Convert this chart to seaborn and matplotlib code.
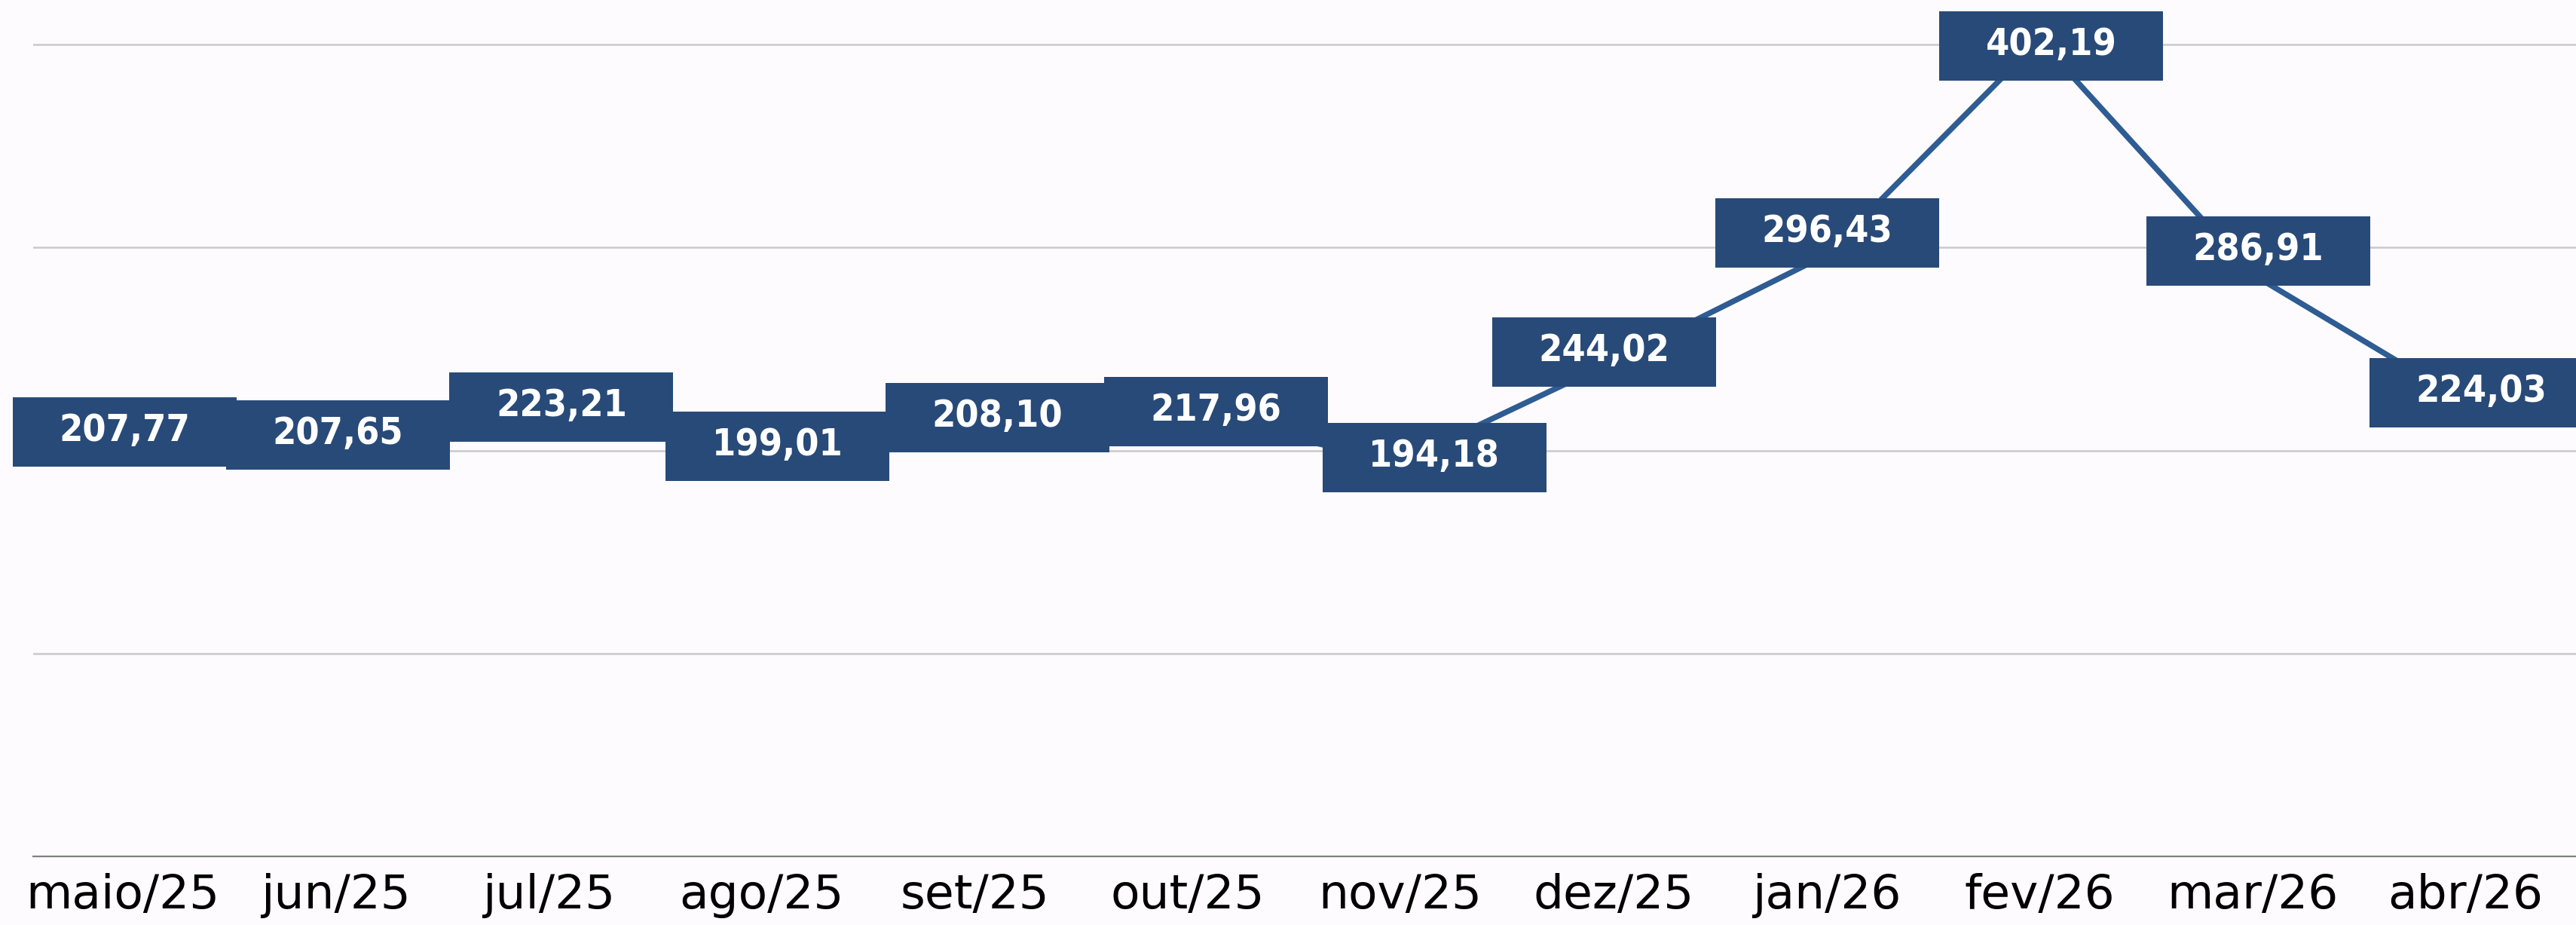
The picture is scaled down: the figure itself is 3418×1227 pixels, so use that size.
import numpy as np
import pandas as pd
import matplotlib
matplotlib.use("Agg")
import matplotlib.pyplot as plt
import matplotlib.transforms as mtransforms
from matplotlib.patches import Rectangle
import seaborn as sns

# dados do grafico
meses = ['maio/25', 'jun/25', 'jul/25', 'ago/25', 'set/25', 'out/25',
         'nov/25', 'dez/25', 'jan/26', 'fev/26', 'mar/26', 'abr/26']
valores = [207.77, 207.65, 223.21, 199.01, 208.10, 217.96,
           194.18, 244.02, 296.43, 402.19, 286.91, 224.03]
rotulos = [f"{v:.2f}".replace('.', ',') for v in valores]

# pequeno ajuste de posicao dos rotulos (em px, como no Excel)
ajuste_x = [3, 3, 17, 21, 30, 38, 45, -12, 1, 16, 8, 21]
ajuste_y = [4, 0, -5, 8, 22, 3, 6, 12, 29, -8, 31, 12]

df = pd.DataFrame({'mes': meses, 'valor': valores})

sns.set_theme(style='white')
plt.rcParams['font.family'] = ['DejaVu Sans']

fundo = '#fdfbfd'
azul_caixa = '#284a78'
azul_linha = '#2e5c93'
dpi = 200

fig = plt.figure(figsize=(17.09, 6.135), dpi=dpi, facecolor=fundo)
ax = fig.add_axes([0.0129, 0.0742, 0.9871, 0.9258])
ax.set_facecolor(fundo)

sns.lineplot(data=df, x='mes', y='valor', sort=False, color=azul_linha,
             linewidth=2.7, ax=ax, zorder=2)

ax.set_ylim(0, 422)
ax.set_xlim(-0.42, 11.52)
ax.set_yticks([100, 200, 300, 400])
ax.yaxis.grid(True, color='#c9c9ce', linewidth=0.9, zorder=0)
ax.set_axisbelow(True)
ax.tick_params(axis='y', left=False, labelleft=False)
ax.tick_params(axis='x', length=0, pad=8, labelsize=22.7, labelcolor='black')
ax.set_xlabel('')
ax.set_ylabel('')
for s in ['top', 'left', 'right']:
    ax.spines[s].set_visible(False)
ax.spines['bottom'].set_color('#808080')
ax.spines['bottom'].set_linewidth(0.8)

# caixas dos rotulos (tamanho fixo em polegadas)
w, h = 297 / dpi, 92 / dpi
for i, (v, txt) in enumerate(zip(valores, rotulos)):
    tr = (fig.dpi_scale_trans
          + mtransforms.ScaledTranslation(ajuste_x[i] / dpi, ajuste_y[i] / dpi, fig.dpi_scale_trans)
          + mtransforms.ScaledTranslation(i, v, ax.transData))
    ax.add_patch(Rectangle((-w / 2, -h / 2), w, h, transform=tr,
                           facecolor=azul_caixa, edgecolor='none',
                           zorder=3, clip_on=False))
    ax.text(0, 0.01, txt, transform=tr, ha='center', va='center', color='white',
            fontsize=18, fontweight='bold', fontstretch='condensed', zorder=4)

fig.savefig('out.png', dpi=dpi, facecolor=fundo)
